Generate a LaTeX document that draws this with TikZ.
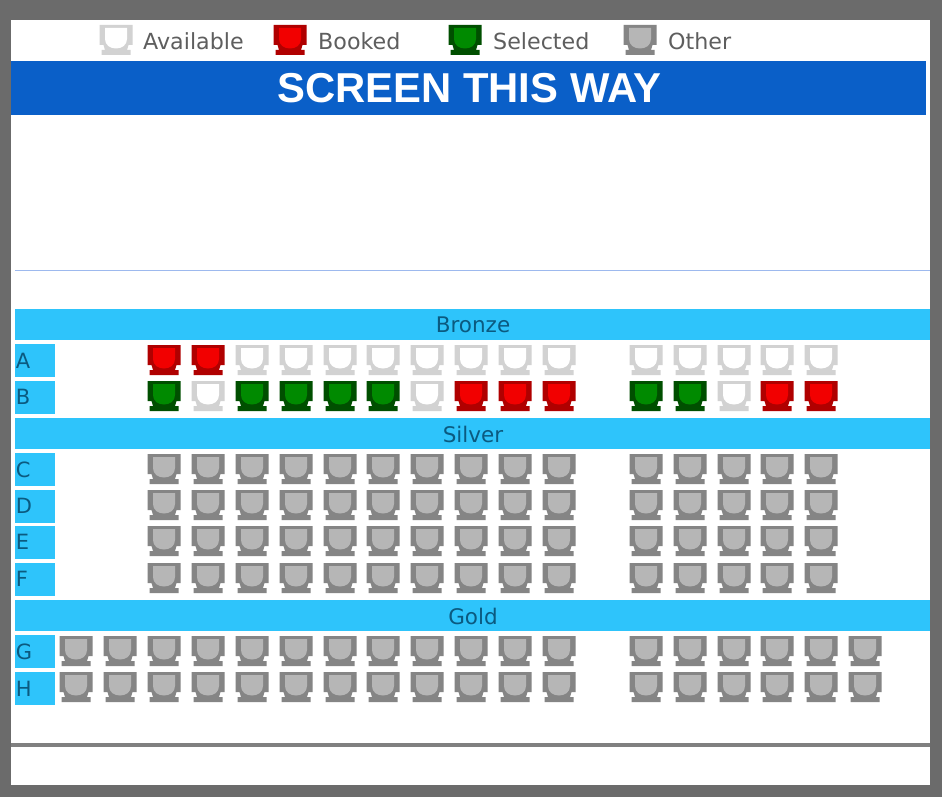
\documentclass[tikz,border=0pt]{standalone}
\usepackage{fontspec}
\setmainfont{DejaVu Sans}
\newfontfamily\titlefont{Liberation Sans}
\definecolor{frameC}{HTML}{6B6B6B}
\definecolor{barC}{HTML}{0A5FC8}
\definecolor{bandC}{HTML}{2EC4FB}
\definecolor{labelC}{HTML}{0B5A80}
\definecolor{legendC}{HTML}{5E5E5E}
\definecolor{ruleC}{HTML}{9DB9EE}
\definecolor{baseC}{HTML}{808080}
\definecolor{aD}{HTML}{D2D2D2}\definecolor{aL}{HTML}{FFFFFF}
\definecolor{rD}{HTML}{B00000}\definecolor{rL}{HTML}{F20000}
\definecolor{gD}{HTML}{004F00}\definecolor{gL}{HTML}{008A00}
\definecolor{oD}{HTML}{858585}\definecolor{oL}{HTML}{B6B6B6}
\tikzset{
  band/.style={fill=bandC,draw=none},
  bandtext/.style={text=labelC,font=\fontsize{21.5}{21.5}\selectfont,anchor=center,inner sep=0pt},
  rowbox/.style={fill=bandC,draw=none,minimum width=40pt,minimum height=33pt,inner sep=0pt,outer sep=0pt,
    text=labelC,font=\fontsize{21}{21}\selectfont},
  legendtext/.style={text=legendC,font=\fontsize{22.2}{22.2}\selectfont,anchor=west,inner sep=0pt},
  pics/seat/.style n args={2}{code={
    \fill[#1] (-16.5,-15) -- (16.5,-15) -- (16.5,5) -- (12.5,5) -- (11,10) -- (14.5,10) -- (14.5,15) -- (-14.5,15) -- (-14.5,10) -- (-11,10) -- (-12.5,5) -- (-16.5,5) -- cycle;
    \fill[#2] (-11,-12) -- (11,-12) -- (11,-1) .. controls (11,5) and (6,8.5) .. (0,8.5) .. controls (-6,8.5) and (-11,5) .. (-11,-1) -- cycle;
  }}
}
\newcommand{\seatrow}[2]{%
  \foreach \cx/\kind in {#2}{\pic at (\cx,#1) {seat={\kind D}{\kind L}};}%
}
\begin{document}
\begin{tikzpicture}[x=1pt,y=-1pt]
\useasboundingbox (0,0) rectangle (942,797);
\fill[frameC] (0,0) rectangle (942,797);
\fill[white] (11,20) rectangle (930,785);
% legend
\pic at (116,40) {seat={aD}{aL}};
\pic at (290,40) {seat={rD}{rL}};
\pic at (465,40) {seat={gD}{gL}};
\pic at (640,40) {seat={oD}{oL}};
\node[legendtext] (lgA) at (143,41) {Available};
\node[legendtext] (lgB) at (318,41) {Booked};
\node[legendtext] (lgS) at (493,41) {Selected};
\node[legendtext] (lgO) at (668,41) {Other};
% screen
\fill[barC] (11,61) rectangle (926,115);
\node[text=white,font=\titlefont\bfseries\fontsize{41.8}{41.8}\selectfont,inner sep=0pt] (screen) at (469.5,88) {SCREEN THIS WAY};
\draw[ruleC,line width=1.2pt] (15,270.5) -- (930,270.5);
% bands
\fill[band] (15,309) rectangle (930,340);
\fill[band] (15,418) rectangle (930,449);
\fill[band] (15,600) rectangle (930,631);
\node[bandtext] (bronze) at (473,325) {Bronze};
\node[bandtext] (silver) at (473,434) {Silver};
\node[bandtext] (gold) at (473,616) {Gold};
% row labels
\foreach \nm/\yy in {A/360.5,B/397,C/469.5,D/506,E/542,F/579,G/651.5,H/688.5}{
  \node[rowbox,text width=38pt,align=left] (row\nm) at (35,\yy) {\nm};
}
% seats
\seatrow{360}{164/r,208/r,252/a,296/a,340/a,383/a,427/a,471/a,515/a,559/a,646/a,690/a,734/a,777/a,821/a}
\seatrow{396}{164/g,208/a,252/g,296/g,340/g,383/g,427/a,471/r,515/r,559/r,646/g,690/g,734/a,777/r,821/r}
\foreach \yy in {469,505,541,578}{
  \seatrow{\yy}{164/o,208/o,252/o,296/o,340/o,383/o,427/o,471/o,515/o,559/o,646/o,690/o,734/o,777/o,821/o}
}
\foreach \yy in {651,687}{
  \seatrow{\yy}{76/o,120/o,164/o,208/o,252/o,296/o,340/o,383/o,427/o,471/o,515/o,559/o,646/o,690/o,734/o,777/o,821/o,865/o}
}
\fill[baseC] (11,743) rectangle (930,746.5);
\end{tikzpicture}
\end{document}
